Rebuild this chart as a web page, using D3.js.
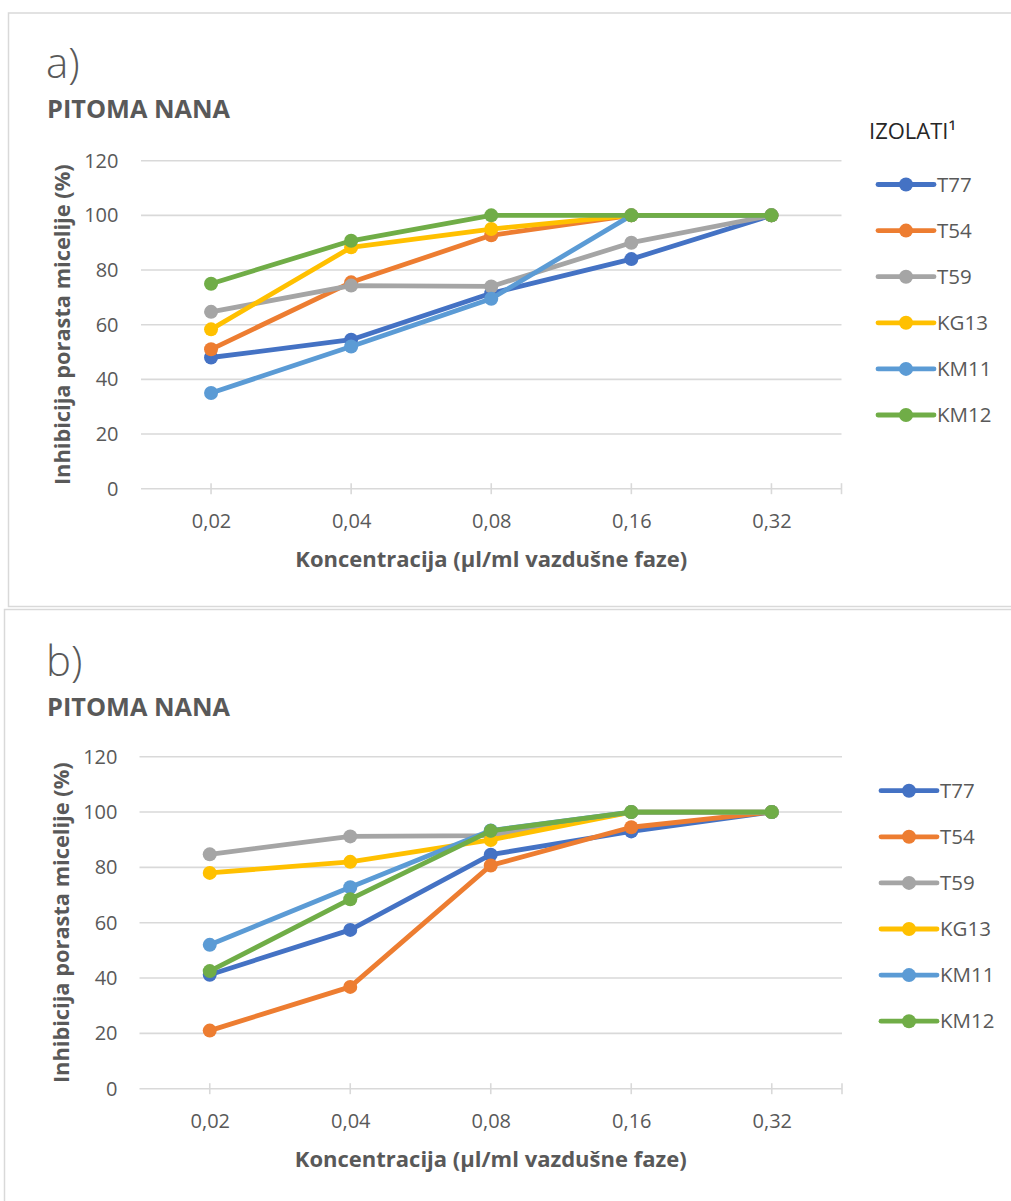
<!DOCTYPE html>
<html>
<head>
<meta charset="utf-8">
<script src="https://cdn.jsdelivr.net/npm/d3@7"></script>
<style>
  html, body { margin: 0; padding: 0; background: #fff; }
  svg { display: block; }
  text { font-family: "Open Sans", "Noto Sans", sans-serif; }
</style>
</head>
<body>
<svg id="chart" width="1011" height="1201"></svg>
<script>
// Concentrations (µl/ml of air phase) and the fungal isolates tested
const categories = ["0,02", "0,04", "0,08", "0,16", "0,32"];
const isolates = ["T77", "T54", "T59", "KG13", "KM11", "KM12"];
const colors = ["#4472C4", "#ED7D31", "#A5A5A5", "#FFC000", "#5B9BD5", "#70AD47"];
const yTicks = [0, 20, 40, 60, 80, 100, 120];

// Panel a) – mycelial growth inhibition (%)
const aT77  = [48, 54.5, 71.5, 84, 100];
const aT54  = [51, 75.5, 92.7, 100, 100];
const aT59  = [64.7, 74.3, 74, 90, 100];
const aKG13 = [58.3, 88.3, 95, 100, 100];
const aKM11 = [35, 52, 69.5, 100, 100];
const aKM12 = [75, 90.7, 100, 100, 100];

// Panel b) – mycelial growth inhibition (%)
const bT77  = [41.2, 57.4, 84.6, 93, 100];
const bT54  = [21, 36.8, 80.7, 94.5, 100];
const bT59  = [84.7, 91.2, 91.5, 100, 100];
const bKG13 = [78, 82, 89.9, 100, 100];
const bKM11 = [52, 72.8, 93.3, 100, 100];
const bKM12 = [42.5, 68.5, 93.2, 100, 100];

const svg = d3.select("#chart");
svg.append("rect").attr("width", 1011).attr("height", 1201).attr("fill", "#fff");

const TXT = "#595959";
const GRID = "#d9d9d9";

function drawPanel(opt) {
  const g = svg.append("g");

  // outer chart frame
  g.append("rect")
    .attr("x", opt.frame[0]).attr("y", opt.frame[1])
    .attr("width", opt.frame[2]).attr("height", opt.frame[3])
    .attr("fill", "none").attr("stroke", GRID).attr("stroke-width", 1.5);

  const x = d3.scalePoint().domain(categories).range(opt.xr).padding(0.5);
  const y = d3.scaleLinear().domain([0, 120]).range(opt.yr);

  // horizontal gridlines
  g.append("g").selectAll("line").data(yTicks.filter(d => d > 0)).join("line")
    .attr("x1", opt.xr[0]).attr("x2", opt.xr[1])
    .attr("y1", d => y(d)).attr("y2", d => y(d))
    .attr("stroke", GRID).attr("stroke-width", 1.6);

  // y axis labels
  const yAxis = d3.axisLeft(y).tickValues(yTicks).tickSize(0).tickPadding(0);
  const ya = g.append("g").attr("transform", `translate(${opt.yLabelX},0)`).call(yAxis);
  ya.select(".domain").remove();
  ya.selectAll("text").attr("font-size", 20).attr("fill", TXT)
    .attr("font-family", "'Open Sans', sans-serif");

  // x axis: baseline, tick marks and labels
  const xAxis = d3.axisBottom(x).tickSize(0).tickPadding(0);
  const xa = g.append("g").attr("transform", `translate(0,${opt.yr[0]})`).call(xAxis);
  xa.select(".domain").remove();
  xa.selectAll("text").attr("font-size", 20).attr("fill", TXT)
    .attr("font-family", "'Open Sans', sans-serif")
    .attr("dy", 0).attr("y", opt.xLabelDy);
  g.append("line")
    .attr("x1", opt.xr[0]).attr("x2", opt.xr[1])
    .attr("y1", y(0)).attr("y2", y(0))
    .attr("stroke", GRID).attr("stroke-width", 1.6);
  const tickPos = categories.map(c => x(c)).concat([opt.xr[1]]);
  g.append("g").selectAll("line").data(tickPos).join("line")
    .attr("x1", d => d).attr("x2", d => d)
    .attr("y1", y(0) - 5.5).attr("y2", y(0) + 5.5)
    .attr("stroke", GRID).attr("stroke-width", 1.6);

  // series lines and markers (drawn in legend order)
  const line = d3.line().x((d, i) => x(categories[i])).y(d => y(d));
  opt.series.forEach((vals, si) => {
    g.append("path").datum(vals)
      .attr("d", line).attr("fill", "none")
      .attr("stroke", colors[si]).attr("stroke-width", 4.8)
      .attr("stroke-linejoin", "round").attr("stroke-linecap", "round");
    g.append("g").selectAll("circle").data(vals).join("circle")
      .attr("cx", (d, i) => x(categories[i])).attr("cy", d => y(d))
      .attr("r", 7).attr("fill", colors[si]);
  });

  // panel letter and subtitle
  g.append("text").attr("x", 46).attr("y", opt.letterY)
    .attr("font-size", 42).attr("font-weight", 300).attr("fill", TXT)
    .text(opt.letter);
  g.append("text").attr("x", 47).attr("y", opt.letterY + 40)
    .attr("font-size", 25.3).attr("font-weight", 700).attr("fill", TXT)
    .text("PITOMA NANA");

  // axis titles
  const yMid = (opt.yr[0] + opt.yr[1]) / 2;
  g.append("text")
    .attr("transform", `translate(${opt.yTitleX},${yMid}) rotate(-90)`)
    .attr("text-anchor", "middle")
    .attr("font-size", 21.8).attr("font-weight", 700).attr("fill", TXT)
    .text("Inhibicija porasta micelije (%)");
  g.append("text")
    .attr("x", (opt.xr[0] + opt.xr[1]) / 2).attr("y", opt.yr[0] + 78)
    .attr("text-anchor", "middle")
    .attr("font-size", 22).attr("font-weight", 700).attr("fill", TXT)
    .text("Koncentracija (µl/ml vazdušne faze)");

  // legend
  if (opt.legendTitle) {
    g.append("text").attr("x", opt.legendX - 9).attr("y", opt.legendY0 - 46)
      .attr("font-size", 22).attr("fill", "#262626")
      .text(opt.legendTitle);
  }
  const lg = g.append("g").selectAll("g").data(isolates).join("g")
    .attr("transform", (d, i) => `translate(${opt.legendX},${opt.legendY0 + i * 46.1})`);
  lg.append("line").attr("x1", 0).attr("x2", 56)
    .attr("stroke", (d, i) => colors[i]).attr("stroke-width", 4.8)
    .attr("stroke-linecap", "round");
  lg.append("circle").attr("cx", 28).attr("r", 7).attr("fill", (d, i) => colors[i]);
  lg.append("text").attr("x", 59).attr("dy", "0.35em")
    .attr("font-size", 20.5).attr("fill", TXT).text(d => d);
}

drawPanel({
  frame: [8.5, 13, 1020, 593.5],
  xr: [141, 841.5], yr: [488.7, 160.7],
  yLabelX: 118.5, xLabelDy: 39,
  letter: "a)", letterY: 78,
  yTitleX: 70,
  legendTitle: "IZOLATI¹", legendX: 878, legendY0: 184.5,
  series: [aT77, aT54, aT59, aKG13, aKM11, aKM12]
});

drawPanel({
  frame: [4.5, 609.5, 1020, 620],
  xr: [139.5, 842], yr: [1088.7, 756.7],
  yLabelX: 117.5, xLabelDy: 39,
  letter: "b)", letterY: 676,
  yTitleX: 69,
  legendTitle: null, legendX: 881, legendY0: 790.7,
  series: [bT77, bT54, bT59, bKG13, bKM11, bKM12]
});
</script>
</body>
</html>
